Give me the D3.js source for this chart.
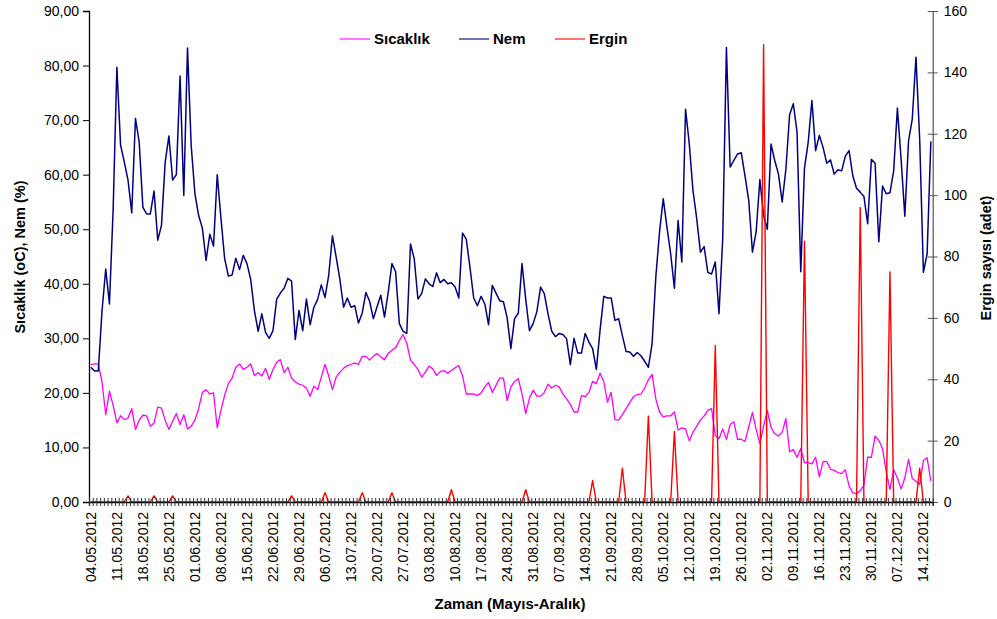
<!DOCTYPE html>
<html>
<head>
<meta charset="utf-8">
<script src="https://cdn.jsdelivr.net/npm/d3@7"></script>
<style>
  body { margin: 0; background: #fff; }
  svg { display: block; font-family: "Liberation Sans", Arial, sans-serif; }
  .tick text { font-size: 14px; fill: #000; }
  .ttl { font-size: 14.5px; font-weight: bold; }
</style>
</head>
<body>
<svg id="chart"></svg>
<script>
// daily records, 04.05.2012 .. 16.12.2012
var startDate = new Date(2012, 4, 4),
  dayCount = 227;

var sicaklik = [
  25.2, 25.3, 25.3, 22, 16, 20.3, 17.7, 14.5, 15.8, 15.1, 15.4, 17.1, 13.3, 15, 15.9, 15.8, 13.9, 14.5, 17.4, 17.2,
  15, 13.3, 14.8, 16.2, 14.2, 16, 13.4, 13.9, 15, 17.1, 20.1, 20.6, 19.8, 20, 13.6, 16.8, 19.6, 21.7, 22.7, 24.7,
  25.3, 24.3, 24.7, 25.3, 23.2, 23.7, 23.1, 24.5, 22.5, 24.3, 25.6, 26.1, 23.7, 24.7, 22.7, 22, 21.6, 21.4, 20.9, 19.4,
  21.2, 20.6, 22.9, 25.2, 23.1, 20.6, 22.9, 23.8, 24.5, 25, 25.2, 25.5, 25.2, 26.7, 26.7, 26, 26.7, 27.2, 26.6, 26.1,
  27.2, 27.8, 28.3, 29.6, 30.7, 29.1, 26, 25.2, 24.3, 22.9, 23.8, 24.9, 24.4, 23.2, 23.9, 24.1, 23.6, 24.1, 24.6, 25,
  23.1, 19.8, 19.8, 19.8, 19.5, 20, 21.1, 21.9, 20.1, 21.4, 22.7, 22.7, 18.6, 21.1, 22.1, 22.6, 19.8, 16.2, 19, 20.5,
  19.4, 19.4, 20.1, 21.6, 20.9, 21.4, 21.1, 19.8, 18.9, 17.9, 16.5, 16.5, 19.5, 19.3, 20.1, 22.1, 21.7, 23.6, 22.1, 18.3,
  20.1, 15.1, 15, 16, 17.1, 18.2, 19.3, 19.7, 19.8, 20.9, 22.4, 23.4, 18.9, 16.5, 15.6, 15.8, 15.8, 16.5, 13.2, 13.6,
  13.4, 11.2, 12.8, 13.9, 15, 15.8, 16.8, 17.1, 12.2, 11.6, 13.4, 11.5, 14.2, 14.7, 11.5, 11.5, 11.1, 13.7, 16.4, 13.3,
  10.7, 13.9, 16.8, 13.7, 12.5, 12.1, 12.8, 15.3, 9.2, 9.6, 8.2, 9.8, 7.2, 7.2, 7, 8.2, 4.6, 7.4, 7.4, 6,
  5.8, 5.4, 5.2, 5.9, 2.9, 1.7, 1.5, 2.1, 3.1, 8.2, 8.2, 12.1, 11.3, 9.8, 5.5, 2.3, 5.9, 4.4, 2.4, 4.4,
  7.8, 4.3, 3.8, 3.2, 7.6, 8.1, 3.8
];

var nem = [
  24.7, 24, 24, 35, 42.7, 36.3, 53.7, 79.7, 65.4, 62.3, 59, 53, 70.3, 66, 54, 52.8, 52.8, 57, 48, 50.7,
  62.3, 67.1, 59, 60, 78.1, 56.2, 83.2, 65.3, 56.5, 52.5, 50.2, 44.3, 49.1, 46.9, 60, 52, 44.6, 41.4, 41.6, 44.7,
  42.6, 45.2, 43.7, 40.8, 35.1, 31.3, 34.5, 31.1, 30, 31.4, 37.2, 38.3, 39.2, 41, 40.5, 29.8, 35.1, 31.4, 37.2, 32.5,
  35.7, 37.1, 39.8, 37.5, 41.6, 48.8, 44.9, 40.8, 35.7, 37.4, 35.7, 36, 32.8, 34.6, 38.4, 36.8, 33.6, 35.8, 37.9, 33.9,
  38.4, 43.7, 42.2, 32.7, 31.3, 30.9, 47.3, 44.6, 37.2, 38.2, 40.9, 40, 39.5, 42, 40.2, 40.8, 40, 40.2, 39.4, 37.4,
  49.3, 48.2, 43, 37.4, 36, 37.7, 36.3, 32.5, 39.7, 38.3, 36.9, 36.7, 33.8, 28.1, 33.6, 34.6, 43.7, 37.2, 31.4, 32.7,
  34.9, 39.4, 38.2, 34.5, 31.3, 30.3, 30.9, 30.7, 29.9, 25.2, 30, 27.3, 27.3, 30.9, 29.3, 28.1, 24.3, 31.5, 37.7, 37.4,
  37.4, 33.3, 33.6, 30.5, 27.6, 27.5, 26.7, 27.4, 26.8, 25.8, 24.7, 29, 41.2, 49.5, 55.6, 50.4, 45.5, 39.2, 51.6, 44,
  72, 65.7, 57.1, 52, 45.8, 46.8, 42.1, 41.8, 44, 34.5, 48.2, 83.3, 61.4, 62.6, 63.8, 64, 59.8, 55.3, 45.8, 49.5,
  59.1, 52.5, 50, 65.6, 62.6, 60.1, 55, 61, 71, 73, 67.8, 42.2, 61.2, 65.9, 73.6, 64.4, 67.2, 65, 62.1, 62.7,
  60.1, 60.9, 60.7, 63.4, 64.4, 59.8, 57.5, 56.8, 56, 51, 62.8, 62.1, 47.7, 57.9, 56.5, 56.7, 60.7, 72.2, 62.8, 52.4,
  66.2, 70.2, 81.5, 66.5, 42.1, 45.5, 66.1
];

var ergin = [
  0, 0, 0, 0, 0, 0, 0, 0, 0, 0, 2, 0, 0, 0, 0, 0, 0, 2, 0, 0,
  0, 0, 2, 0, 0, 0, 0, 0, 0, 0, 0, 0, 0, 0, 0, 0, 0, 0, 0, 0,
  0, 0, 0, 0, 0, 0, 0, 0, 0, 0, 0, 0, 0, 0, 2, 0, 0, 0, 0, 0,
  0, 0, 0, 3, 0, 0, 0, 0, 0, 0, 0, 0, 0, 3, 0, 0, 0, 0, 0, 0,
  0, 3, 0, 0, 0, 0, 0, 0, 0, 0, 0, 0, 0, 0, 0, 0, 0, 4, 0, 0,
  0, 0, 0, 0, 0, 0, 0, 0, 0, 0, 0, 0, 0, 0, 0, 0, 0, 4, 0, 0,
  0, 0, 0, 0, 0, 0, 0, 0, 0, 0, 0, 0, 0, 0, 0, 7, 0, 0, 0, 0,
  0, 0, 0, 11, 0, 0, 0, 0, 0, 0, 28, 0, 0, 0, 0, 0, 0, 23, 0, 0,
  0, 0, 0, 0, 0, 0, 0, 0, 51, 0, 0, 0, 0, 0, 0, 0, 0, 0, 0, 0,
  0, 149, 0, 0, 0, 0, 0, 0, 0, 0, 0, 0, 85, 0, 0, 0, 0, 0, 0, 0,
  0, 0, 0, 0, 0, 0, 0, 96, 0, 0, 0, 0, 0, 0, 0, 75, 0, 0, 0, 0,
  0, 0, 0, 11, 0, 0, 0
];

var leftTicks = [0, 10, 20, 30, 40, 50, 60, 70, 80, 90],
  rightTicks = [0, 20, 40, 60, 80, 100, 120, 140, 160],
  labelStep = 7;

var series = [
  { name: "Sıcaklık", values: sicaklik, axis: "left", color: "#ff00ff", width: 1.3 },
  { name: "Nem", values: nem, axis: "left", color: "#000080", width: 1.5 },
  { name: "Ergin", values: ergin, axis: "right", color: "#ff0000", width: 1.4 }
];

var width = 997, height = 619,
  plot = { left: 89, right: 932.7, top: 11, bottom: 502 };

var svg = d3.select("#chart")
  .attr("width", width)
  .attr("height", height);

var days = d3.range(dayCount).map(function(i) { return d3.timeDay.offset(startDate, i); }),
  fmtDay = d3.timeFormat("%d.%m.%Y"),
  fmtLeft = function(v) { return d3.format(".2f")(v).replace(".", ","); };

var x = d3.scaleBand()
    .domain(d3.range(dayCount))
    .range([plot.left, plot.right]),
  xEdge = d3.scaleLinear()
    .domain([0, dayCount])
    .range([plot.left, plot.right]),
  yLeft = d3.scaleLinear()
    .domain([0, 90])
    .range([plot.bottom, plot.top]),
  yRight = d3.scaleLinear()
    .domain([0, 160])
    .range([plot.bottom, plot.top]);

// lines
series.forEach(function(s) {
  var y = s.axis === "left" ? yLeft : yRight,
    line = d3.line()
      .x(function(d, i) { return x(i) + x.bandwidth() / 2; })
      .y(function(d) { return y(d); });

  svg.append("path")
    .datum(s.values)
    .attr("fill", "none")
    .attr("stroke", s.color)
    .attr("stroke-width", s.width)
    .attr("stroke-linejoin", "round")
    .attr("d", line);
});

// left axis
var gLeft = svg.append("g")
  .attr("transform", "translate(" + plot.left + ",0)")
  .call(d3.axisLeft(yLeft).tickValues(leftTicks).tickSize(6).tickPadding(4).tickFormat(fmtLeft));
gLeft.select(".domain").attr("stroke", "#000").attr("stroke-width", 1.3);
gLeft.selectAll(".tick line").attr("stroke", "#000");

// right axis
var gRight = svg.append("g")
  .attr("transform", "translate(" + plot.right + ",0)")
  .call(d3.axisRight(yRight).tickValues(rightTicks).tickSize(5).tickPadding(6));
gRight.select(".domain").attr("stroke", "#555").attr("stroke-width", 1.2);
gRight.selectAll(".tick line").attr("x1", -5).attr("stroke", "#555");

// bottom axis: a tick at every day edge, a label every week
var gTicks = svg.append("g")
  .attr("transform", "translate(0," + plot.bottom + ")")
  .call(d3.axisBottom(xEdge).tickValues(d3.range(dayCount + 1)).tickSize(4).tickFormat(""));
gTicks.select(".domain").attr("stroke", "#000").attr("stroke-width", 1.3);
gTicks.selectAll(".tick line").attr("y1", -4).attr("stroke", "#333");

var gLabels = svg.append("g")
  .attr("transform", "translate(0," + plot.bottom + ")")
  .call(d3.axisBottom(x)
    .tickValues(d3.range(0, dayCount, labelStep))
    .tickSize(0)
    .tickFormat(function(i) { return fmtDay(days[i]); }));
gLabels.select(".domain").remove();
gLabels.selectAll(".tick text")
  .attr("transform", "rotate(-90)")
  .attr("text-anchor", "end")
  .attr("x", -10)
  .attr("y", 0)
  .attr("dy", "0.36em");

// axis titles
svg.append("text")
  .attr("class", "ttl")
  .attr("transform", "translate(25,257) rotate(-90)")
  .attr("text-anchor", "middle")
  .text("Sıcaklık (oC), Nem (%)");

svg.append("text")
  .attr("class", "ttl")
  .attr("transform", "translate(991,258) rotate(-90)")
  .attr("text-anchor", "middle")
  .text("Ergin sayısı (adet)");

svg.append("text")
  .attr("class", "ttl")
  .attr("x", 510)
  .attr("y", 609)
  .attr("text-anchor", "middle")
  .style("font-size", "15px")
  .text("Zaman (Mayıs-Aralık)");

// legend
var legendX = [340, 459, 555];
var legend = svg.append("g")
  .selectAll("g")
  .data(series)
  .enter()
  .append("g")
    .attr("transform", function(d, i) { return "translate(" + legendX[i] + ",39)"; });

legend.append("line")
  .attr("x1", 0)
  .attr("x2", 30)
  .attr("stroke", function(d) { return d.color; })
  .attr("stroke-opacity", 0.55)
  .attr("stroke-width", 2);

legend.append("text")
  .attr("class", "ttl")
  .attr("x", 34)
  .attr("dy", "0.35em")
  .style("font-size", "15px")
  .text(function(d) { return d.name; });
</script>
</body>
</html>
